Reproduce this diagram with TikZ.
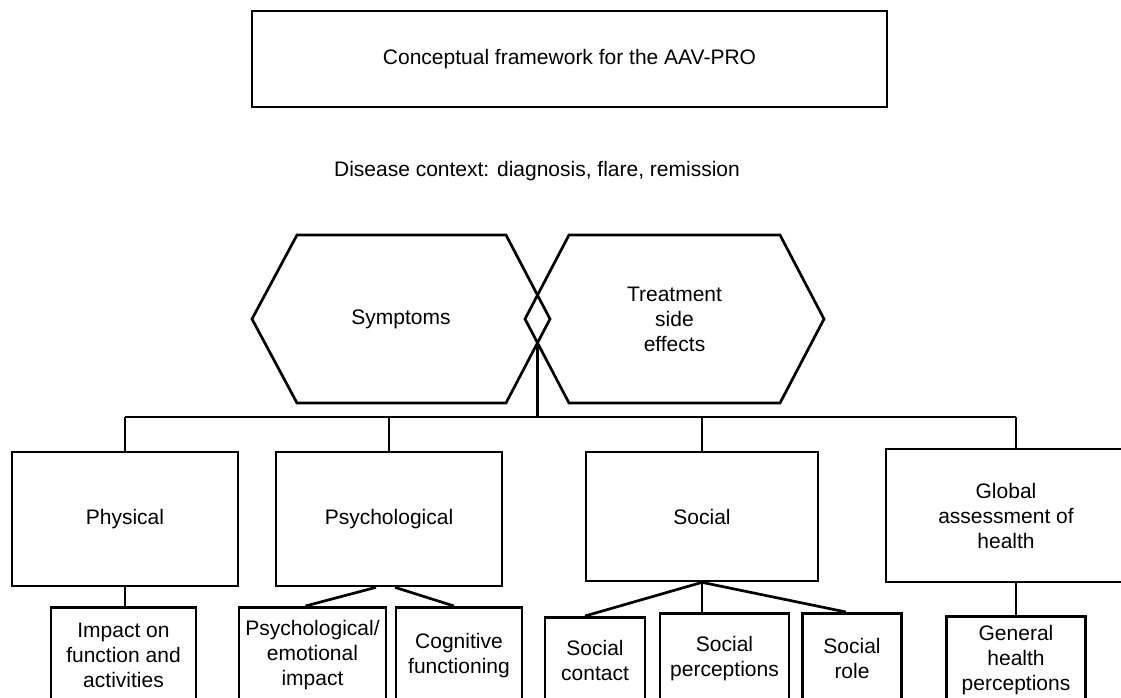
\documentclass[tikz,border=0pt]{standalone}
\usepackage{fontspec}
\setmainfont{Liberation Sans}

\tikzset{
  box/.style={draw, line width=2.7pt, align=center, inner sep=2pt, font=\fontsize{21}{25}\selectfont},
  leaf/.style={box, anchor=north},
  link/.style={line width=2.7pt},
  hexa/.style={line width=2.7pt, line join=miter},
}

\begin{document}
\begin{tikzpicture}[x=1pt, y=-1pt]
         \useasboundingbox (0,0) rectangle (1121,698);
         \clip (0,0) rectangle (1121,698);
         % heading
         \node[box, minimum width=635pt, minimum height=96pt] (title) at (569.5,59) {Conceptual framework for the AAV-PRO};
         \node[font=\fontsize{21}{25}\selectfont] (context) at (537,171) {Disease context: diagnosis, flare, remission};
         % the two hexagons
         \draw[hexa] (252,319) -- (297,235) -- (506,235) -- (550,319) -- (506,403) -- (297,403) -- cycle;
         \draw[hexa] (525,319) -- (569,235) -- (780,235) -- (824,319) -- (780,403) -- (569,403) -- cycle;
         \node[font=\fontsize{21}{25}\selectfont] (symp) at (401,319) {Symptoms};
         \node[font=\fontsize{21}{25}\selectfont, align=center] (treat) at (674.5,319) {Treatment\\side\\effects};
         \coordinate (cross) at (537.5,343);
         % domains
         \node[box, minimum width=226pt, minimum height=134pt] (phys) at (125,519) {Physical};
         \node[box, minimum width=226pt, minimum height=134pt] (psych) at (389,519) {Psychological};
         \node[box, minimum width=232pt, minimum height=129pt] (soc) at (702,516.5) {Social};
         \node[box, minimum width=240pt, minimum height=133pt] (glob) at (1006,515.5) {Global\\assessment of\\health};
         % sub-domains
         \node[leaf, minimum width=145pt, minimum height=96pt] (impact) at (123.5,606) {Impact on\\function and\\activities};
         \node[leaf, minimum width=147pt, minimum height=96pt] (emo) at (312.5,606) {Psychological/\\emotional\\impact};
         \node[leaf, minimum width=126pt, minimum height=96pt] (cog) at (459,606) {Cognitive\\functioning};
         \node[leaf, minimum width=100pt, minimum height=86pt] (contact) at (595,616) {Social\\contact};
         \node[leaf, minimum width=129pt, minimum height=90pt] (percep) at (724.5,612) {Social\\perceptions};
         \node[leaf, minimum width=99pt, minimum height=90pt] (role) at (852,612) {Social\\role};
         \node[leaf, minimum width=139pt, minimum height=87pt] (health) at (1016,615) {General\\health\\perceptions};
         % connectors
         \coordinate (busL) at (phys.north |- 0,417);
         \coordinate (busR) at (health.north |- 0,417);
         \draw[link] (busL) -- (busR);
         \draw[link] (cross) -- (cross |- busL);
         \foreach \n in {phys,psych,soc} {\draw[link] (\n.north |- busL) -- (\n.north);}
         \draw[link] (busR) -- (busR |- glob.north);
         \draw[link] (phys.south) -- (phys.south |- impact.north);
         \draw[link] ([xshift=-13pt]psych.south) -- ([xshift=-7pt]emo.north);
         \draw[link] ([xshift=6pt]psych.south) -- ([xshift=-5pt]cog.north);
         \draw[link] (soc.south) -- ([xshift=-10pt]contact.north);
         \draw[link] (soc.south) -- (soc.south |- percep.north);
         \draw[link] (soc.south) -- ([xshift=-6pt]role.north);
         \draw[link] (health.north |- glob.south) -- (health.north);
      \end{tikzpicture}
\end{document}
